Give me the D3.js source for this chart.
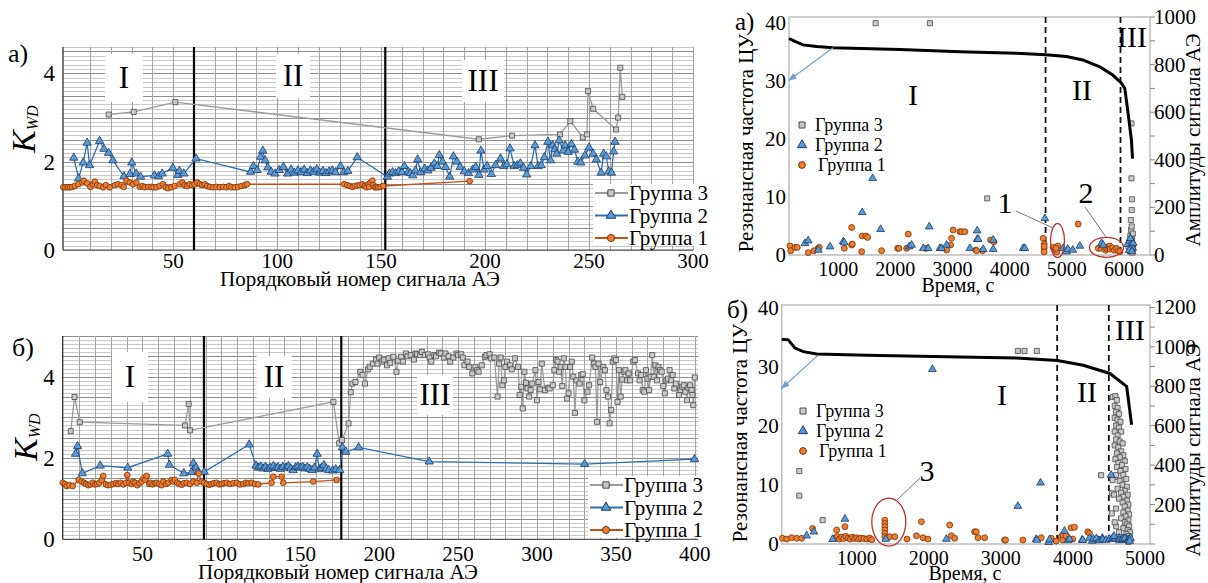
<!DOCTYPE html>
<html><head><meta charset="utf-8">
<script src="https://cdn.jsdelivr.net/npm/d3@7"></script>
<style>
body{margin:0;background:#fff}
svg{display:block}
text{font-family:"Liberation Serif","DejaVu Serif",serif}
</style></head><body>
<svg width="1208" height="583" font-family="Liberation Serif, DejaVu Serif, serif"></svg>
<script>
// ---------- data: left panels (K_WD vs ordinal number) ----------
const groups = ["Группа 3", "Группа 2", "Группа 1"];
const leftXTitle = "Порядковый номер сигнала АЭ";
const rightXTitle = "Время, с";
const rightYLeftTitle = "Резонансная частота ЦУ";
const rightYRightTitle = "Амплитуды сигнала АЭ";

const tlXTicks = [50, 100, 150, 200, 250, 300];
const tlYTicks = [0, 2, 4];
const tlStages = [60, 152];
const tlG3 = [[19,3.07],[31,3.13],[51,3.35],[197,2.51],[213,2.59],[236,2.62],[241,2.92],[247,2.55],[249,2.62],[249.5,3.6],[252,3.2],[263,2.73],[264,3.0],[265,4.13],[266,3.47]];
const tlG2 = [[2.2,2.09],[4.5,1.62],[6.7,1.98],[8.6,2.43],[9.8,1.92],[14.6,2.47],[16.7,2.29],[18.9,2.2],[21,2.03],[26.3,1.67],[29.2,1.72],[30.1,1.98],[32.2,1.73],[34.3,1.66],[41,1.69],[43,1.67],[44.7,1.73],[49.8,1.86],[52.2,1.7],[53,1.79],[55.1,1.73],[61,2.07],[87.2,1.77],[88.6,1.9],[90.4,1.81],[92,2.11],[93.1,2.25],[94.2,2.03],[95.5,1.87],[97.1,1.77],[99,1.73],[101,1.81],[103,1.88],[105,1.73],[106.7,1.82],[108.3,1.75],[110,1.8],[111.5,1.76],[113,1.82],[114.5,1.74],[116,1.8],[117.5,1.77],[119,1.83],[120.5,1.75],[122,1.79],[123.5,1.74],[125,1.78],[126.5,1.8],[128,1.76],[130.5,1.9],[132,1.76],[134,1.79],[138.5,2.1],[153,1.66],[154,1.73],[155.5,1.76],[157,1.74],[158.5,1.78],[160,1.76],[161.2,1.9],[163,1.77],[164,1.74],[165.2,1.69],[166.5,1.8],[167.6,2.05],[169,1.76],[171,1.84],[172.5,1.8],[174,1.86],[175.6,1.96],[177,1.9],[178,2.15],[179.5,2.0],[181,1.88],[183,1.66],[184.8,2.12],[186.5,2.0],[188,1.88],[190,1.78],[192,1.74],[194,1.82],[195.5,1.88],[197,1.7],[198,2.25],[199.5,1.82],[201,1.9],[203,1.72],[205,1.92],[207.4,2.07],[209,1.9],[210.5,1.94],[212,2.3],[214,1.9],[215.5,1.92],[217,1.96],[218.5,1.86],[220,1.71],[222,1.9],[224,2.37],[225.5,1.9],[227,1.92],[228.5,2.1],[230.2,2.45],[231.5,2.03],[232.5,2.37],[233.5,2.28],[234.5,2.18],[235.6,2.48],[237.5,2.25],[238.5,2.37],[240,2.22],[241.5,2.4],[243,2.27],[244.6,2.0],[246,1.98],[248,2.14],[250,2.32],[252,2.18],[253.5,2.05],[255.8,1.75],[257,2.18],[258.3,2.12],[259.5,1.78],[260.8,1.75],[261.8,2.23],[262.5,2.45]];
const tlG1 = [[-2.9,1.42],[-1.8,1.42],[-0.7,1.42],[0.4,1.42],[1.5,1.43],[2.7,1.45],[4.3,1.49],[6.3,1.53],[7,1.57],[8.6,1.51],[10.2,1.43],[11.5,1.49],[12.3,1.55],[13.4,1.47],[14.7,1.45],[16.3,1.42],[17.6,1.47],[19.5,1.42],[21.9,1.47],[23.5,1.49],[25.1,1.47],[26.2,1.43],[27.5,1.57],[29.1,1.53],[30.7,1.49],[32.3,1.53],[33.9,1.43],[35.2,1.45],[36.3,1.42],[37.9,1.43],[39.5,1.43],[40.6,1.42],[41.9,1.42],[43.5,1.45],[45.1,1.49],[46.4,1.42],[47.5,1.4],[49.1,1.42],[50.7,1.45],[53.1,1.49],[54.4,1.53],[55.5,1.47],[56.7,1.45],[57.9,1.49],[59.2,1.47],[60.3,1.49],[61.6,1.53],[62.8,1.49],[64,1.47],[65.2,1.49],[66.3,1.45],[67.6,1.43],[69.2,1.42],[70.8,1.43],[72.4,1.42],[74,1.43],[75.6,1.42],[76.9,1.45],[78,1.42],[79.6,1.42],[81.2,1.43],[82.8,1.45],[84.4,1.47],[85.5,1.49],[132.2,1.49],[133.7,1.47],[134.9,1.45],[136.2,1.43],[137.3,1.45],[138.5,1.46],[139.7,1.47],[141,1.49],[142.1,1.45],[142.9,1.42],[143.8,1.49],[144.2,1.43],[144.9,1.53],[145.8,1.57],[146.2,1.47],[147,1.42],[147.8,1.43],[148.6,1.42],[149.7,1.43],[151,1.45],[192.6,1.56]];

const blXTicks = [50, 100, 150, 200, 250, 300, 350, 400];
const blYTicks = [0, 2, 4];
const blStages = [89, 176];
const blG3 = [[4.6,2.66],[7,3.5],[10.3,2.88],[77,2.8],[79.3,3.33],[80.2,2.68],[171,3.38],[174.7,2.36],[176.5,2.44],[180.6,2.85],[182,3.62],[183,3.83],[185,3.87],[188,4.12],[189.5,4.04],
[191,3.83],[193,4.18],[194,4.24],[196,4.32],[198,4.42],[199,4.32],[200,4.47],[202,4.37],[203,4.42],[205,4.28],[206,4.45],[207,4.34],[209,4.49],[211,4.12],[212,4.39],[214,4.49],[215,4.37],[217,4.57],[218,4.5],[220,4.53],[222,4.42],[223,4.57],[224,4.55],[226,4.53],[227,4.61],[229,4.53],[231,4.55],[232,4.47],[233,4.37],[235,4.53],[236,4.5],[238,4.59],[239,4.57],[241,4.47],[242,4.57],[244,4.5],[245,4.37],[247,4.47],[249,4.57],[250,4.53],[252,4.55],[253,4.47],[254,4.28],[256,4.37],[257,4.24],[259,4.08],[261,4.24],[262,4.16],[263,4.12],[265,4.28],[267,4.49],[268,4.53],[270,4.55],[271,4.45],[273,4.47],[275,3.51],[276,4.32],[277,4.47],[278,3.79],[279,3.91],[280,4.24],[281,4.37],[283,4.28],[284,4.18],[286,4.45],[288,4.24],[289,3.55],[290,3.75],[291,3.22],[292,4.12],[293,3.85],[294,3.71],[295,3.51],[296,3.67],[297,3.83],[299,4.16],[300,3.42],[301,3.87],[302,3.69],[303,4.32],[305,3.67],[307,3.73],[308,3.71],[310,3.79],[311,4.16],[312,4.41],[313,4.37],[314,4.12],[315,4.24],[316,3.77],[317,4.45],[318,4.24],[319,3.46],[320,3.59],[321,4.24],[322,4.37],[323,4.0],[324,3.11],[325,3.91],[327,3.83],[328,4.04],[329,4.06],[330,3.42],[332,3.63],[333,3.79],[335,4.47],[336,4.32],[337,4.24],[338,2.89],[339,4.32],[340,3.87],[342,4.24],[343,4.16],[344,3.67],[345,3.51],[346,2.85],[347,3.18],[348,4.37],[349,4.45],[350,4.41],[351,3.38],[352,4.16],[353,3.51],[354,3.93],[355,4.12],[356,4.16],[357,3.91],[358,4.08],[359,3.91],[361,4.37],[362,4.41],[364,4.08],[365,3.91],[366,4.04],[367,3.67],[368,3.63],[369,4.16],[370,3.95],[371,3.67],[372,4.0],[373,4.53],[374,4.0],[375,4.28],[376,3.91],[377,4.24],[378,4.16],[379,4.12],[380,3.77],[381,3.59],[382,3.91],[383,3.95],[384,4.16],[385,3.91],[386,4.04],[387,3.71],[388,3.83],[390,3.55],[391,3.67],[392,3.75],[393,3.79],[394,3.63],[395,3.42],[396,3.73],[397,3.79],[398,3.67],[398.5,3.55],[399,3.3],[400,3.98]];
const blG2 = [[7.6,2.1],[8.9,2.29],[11.9,1.62],[23.3,1.81],[40.7,1.76],[66,2.1],[67.1,1.83],[76.2,1.62],[81.2,1.65],[82.3,1.87],[84,1.76],[85.2,1.65],[89.2,1.66],[117.7,2.33],[122,1.81],[123.5,1.76],[125,1.79],[126.5,1.74],[128,1.78],[129.5,1.73],[131,1.76],[133,1.8],[134.5,1.75],[136,1.77],[137.5,1.73],[139,1.78],[141,1.76],[142.5,1.8],[144,1.74],[145.5,1.7],[147,1.77],[148.5,1.79],[150,1.76],[151.5,1.78],[153,1.74],[154.5,1.77],[156,1.73],[157.5,1.7],[159,1.76],[160.7,2.1],[162,1.72],[163.5,1.76],[165,1.82],[166.5,1.74],[168,1.7],[170.6,1.69],[172.5,1.72],[175,1.7],[176.8,2.26],[178.9,2.15],[187,2.26],[231.7,1.91],[330.2,1.85],[399.8,1.97]];
const blG1 = [[-0.5,1.39],[1,1.36],[2,1.31],[3.7,1.33],[5.8,1.31],[9.6,1.46],[11.5,1.42],[13,1.39],[14.3,1.36],[15.7,1.33],[17.2,1.35],[18.5,1.39],[20,1.35],[21.4,1.36],[22.7,1.39],[24.2,1.46],[25.2,1.56],[26.9,1.35],[28.4,1.33],[29.9,1.34],[31.6,1.36],[33.3,1.38],[34.7,1.36],[36.2,1.39],[37.9,1.35],[39.6,1.39],[40.4,1.58],[41.7,1.39],[43.2,1.36],[44.2,1.42],[45.3,1.39],[46.8,1.33],[48,1.38],[49.5,1.42],[50.6,1.5],[51.8,1.46],[52.7,1.56],[54.2,1.36],[55.2,1.39],[56.5,1.35],[58,1.38],[59,1.39],[60.7,1.36],[62.2,1.33],[63.2,1.42],[65,1.36],[66.4,1.39],[68.5,1.46],[69.6,1.42],[70.6,1.46],[72.1,1.39],[73.4,1.36],[74.9,1.34],[76.3,1.38],[78,1.39],[80.1,1.36],[82.2,1.42],[84.4,1.39],[85.6,1.62],[87.5,1.42],[89,1.39],[90.7,1.36],[92.4,1.34],[93.8,1.36],[95.3,1.38],[97,1.39],[98.7,1.35],[100.2,1.36],[101.7,1.38],[103.4,1.39],[105.5,1.36],[107.6,1.38],[109.7,1.39],[111.8,1.35],[113.9,1.36],[115.6,1.39],[117.1,1.38],[119.2,1.39],[121.3,1.36],[123.4,1.35],[131.8,1.39],[132.9,1.54],[138.2,1.54],[139.2,1.39],[158.2,1.42],[173,1.46]];

// ---------- data: right panels (time, amplitude / resonance frequency) ----------
const trXTicks = [1000, 2000, 3000, 4000, 5000, 6000];
const trYLTicks = [0, 10, 20, 30, 40];
const trYRTicks = [0, 200, 400, 600, 800, 1000];
const trStages = [4628, 5939];
const trFreq = [[140,37.3],[245,36.8],[385,36.2],[624,35.9],[909,35.7],[2080,35.4],[3129,35.0],[4120,34.75],[4628,34.5],[4995,34.2],[5280,33.6],[5577,32.4],[5804,31.0],[5956,29.6],[6014,28.7],[6072,24.4],[6131,19.7],[6149,16.6]];
const trG3 = [[1656,974],[2605,974],[3607,238],[6131,553],[6131,322],[6140,234],[6135,189],[6120,147],[6125,105],[6110,80],[6140,70],[6100,55],[6150,45],[6120,40],[6090,30],[6160,25],[6130,20],[6105,15],[6145,10],[6080,35],[6125,60],[6155,90],[6135,120],[6115,65]];
const trG2 = [[420,49],[477,60],[652,21],[857,35],[1089,56],[1107,52],[1421,179],[1603,322],[1743,108],[2243,35],[2285,42],[2488,28],[2593,119],[2575,28],[2780,28],[2810,28],[2897,42],[3304,28],[3432,102],[3432,66],[3449,66],[3537,24],[3712,63],[3712,24],[4236,28],[4266,28],[4615,154],[4935,28],[4995,14],[5017,25],[5105,21],[5227,38],[5607,49],[5635,42],[6060,45],[6100,60],[6130,45],[6150,30],[6120,25],[6090,20],[6160,50],[6140,15],[6110,70]];
const trG1 = [[157,38],[170,18],[245,32],[285,32],[477,10],[577,18],[652,28],[670,32],[1107,28],[1236,42],[1236,116],[1247,46],[1411,14],[1421,80],[1486,80],[1516,74],[1760,18],[2040,28],[2063,28],[2198,28],[2226,88],[2535,28],[2897,21],[2967,42],[2984,70],[3012,105],[3129,98],[3159,98],[3217,98],[3409,21],[3421,18],[3526,18],[3666,63],[3724,56],[4586,70],[4603,28],[4603,46],[4603,13],[4603,36],[4760,32],[4790,21],[4825,13],[4843,38],[4810,28],[5198,130],[5550,28],[5600,28],[5650,32],[5680,20],[5700,28],[5720,35],[5750,38],[5760,25],[5800,30],[5830,20],[5870,28],[5900,18],[5930,14]];

const brXTicks = [1000, 2000, 3000, 4000, 5000];
const brYLTicks = [0, 10, 20, 30, 40];
const brYRTicks = [200, 400, 600, 800, 1000, 1200];
const brStages = [3782, 4499];
const brFreq = [[-40,34.7],[51,34.6],[144,33.2],[259,32.6],[445,32.2],[1139,32.0],[2433,31.7],[3219,31.5],[3788,31.1],[4143,30.3],[4514,28.9],[4746,26.7],[4815,20.2]];
const brG3 = [[204,370],[204,245],[528,121],[3237,979],[3329,979],[3500,979],[4392,349],
[4553,746],[4590,750],[4610,730],[4580,700],[4620,690],[4600,670],[4640,660],[4580,640],[4620,630],[4660,620],[4600,600],[4640,590],[4580,570],[4670,570],[4620,550],[4600,530],[4650,520],[4690,510],[4580,500],[4630,490],[4670,470],[4610,460],[4700,450],[4650,440],[4590,430],[4720,420],[4630,410],[4680,400],[4610,390],[4730,380],[4660,370],[4700,350],[4600,340],[4740,330],[4650,320],[4550,324],[4690,300],[4750,290],[4620,280],[4720,270],[4544,257],[4670,260],[4760,250],[4700,240],[4640,230],[4750,220],[4690,210],[4770,200],[4720,190],[4600,180],[4760,170],[4700,160],[4540,155],[4780,150],[4730,140],[4670,130],[4770,120],[4720,110],[4750,100],[4780,90],[4700,80],[4760,70],[4790,60],[4740,50],[4770,40],[4710,35],[4790,30],[4750,20],[4680,25],[4770,10],[4640,60],[4600,90],[4580,110],[4570,250],[4600,350]];
const brG2 = [[306,42],[407,62],[666,24],[837,127],[1404,25],[2051,886],[2245,25],[3237,192],[3491,24],[3500,20],[3551,310],[3666,9],[3676,22],[3883,66],[3930,18],[3953,25],[4128,20],[4137,20],[4230,30],[4267,15],[4285,25],[4327,28],[4369,18],[4410,30],[4415,22],[4461,20],[4507,25],[4530,350],[4549,30],[4576,25],[4600,25],[4640,30],[4646,18],[4680,22],[4692,26],[4720,28],[4760,20],[4784,25],[4800,30],[4570,40],[4790,15]];
const brG1 = [[-30,29],[29,25],[98,32],[168,29],[237,29],[389,79],[700,30],[722,71],[730,38],[760,25],[790,35],[820,28],[837,88],[850,40],[880,30],[910,25],[940,35],[970,28],[1000,32],[1030,25],[1060,30],[1100,28],[1140,25],[1180,30],[1210,22],[1391,121],[1391,104],[1391,88],[1391,71],[1391,54],[1391,37],[1459,37],[1530,37],[1699,25],[1830,42],[1899,113],[1921,32],[1990,25],[2291,96],[2314,42],[2360,29],[2637,62],[2660,62],[2683,32],[2775,32],[3052,20],[3066,20],[3306,20],[3561,32],[3699,29],[3768,15],[3838,37],[3860,20],[3860,46],[3907,42],[3976,82],[3998,25],[4022,85],[4206,62],[4230,54],[4345,25]];

// ---------- drawing ----------
const svg = d3.select("svg");
svg.append("rect").attr("width", 1208).attr("height", 583).attr("fill", "#fff");

const style = {
  g3: {sym: d3.symbolSquare, fill: "#c9c9c9", stroke: "#4a4a4a", line: "#9b9b9b"},
  g2: {sym: d3.symbolTriangle, fill: "#5b9bd5", stroke: "#1c3a66", line: "#2f6db3"},
  g1: {sym: d3.symbolCircle, fill: "#ed7d31", stroke: "#7a3408", line: "#c4501c"}
};

const defs = svg.append("defs");
defs.append("marker").attr("id", "arr").attr("viewBox", "0 0 10 10")
  .attr("refX", 9).attr("refY", 5).attr("markerWidth", 7).attr("markerHeight", 7)
  .attr("orient", "auto")
  .append("path").attr("d", "M0,1 L10,5 L0,9 z").attr("fill", "#6fa0d8");

function symbols(g, data, x, y, st, size) {
  g.selectAll(null).data(data).join("path")
    .attr("transform", d => `translate(${x(d[0])},${y(d[1])})`)
    .attr("d", d3.symbol().type(st.sym).size(size))
    .attr("fill", st.fill).attr("stroke", st.stroke).attr("stroke-width", 0.8);
}

function stageLabel(g, cx, cy, txt, w, h) {
  g.append("rect").attr("x", cx - w / 2).attr("y", cy - h / 2)
    .attr("width", w).attr("height", h).attr("fill", "#fff");
  g.append("text").attr("x", cx).attr("y", cy + 10).attr("text-anchor", "middle")
    .style("font-size", "31px").text(txt);
}

function leftPanel(o) {
  const g = svg.append("g");
  const x = d3.scaleLinear().domain(o.xDom).range(o.xR);
  const y = d3.scaleLinear().domain(o.yDom).range(o.yR);

  // dense horizontal grid (0.1) with heavier lines every 0.5
  const hs = d3.range(0, Math.round(o.yDom[1] * 10) + 1).map(i => i / 10);
  g.selectAll(null).data(hs).join("line")
    .attr("x1", o.xR[0]).attr("x2", o.xR[1])
    .attr("y1", d => Math.round(y(d)) + 0.5).attr("y2", d => Math.round(y(d)) + 0.5)
    .attr("stroke", d => Math.round(d * 10) % 5 === 0 ? "#8d8d8d" : "#c9c9c9");
  const vs = d3.range(10, o.xDom[1] + 1, 10);
  g.selectAll(null).data(vs).join("line")
    .attr("x1", d => Math.round(x(d)) + 0.5).attr("x2", d => Math.round(x(d)) + 0.5)
    .attr("y1", o.yR[1]).attr("y2", o.yR[0])
    .attr("stroke", "#a3a3a3");

  // axes
  g.append("line").attr("x1", o.xR[0]).attr("x2", o.xR[0]).attr("y1", o.yR[1]).attr("y2", o.yR[0])
    .attr("stroke", "#333").attr("stroke-width", 1.3);
  g.append("line").attr("x1", o.xR[0]).attr("x2", o.xR[1]).attr("y1", o.yR[0]).attr("y2", o.yR[0])
    .attr("stroke", "#555").attr("stroke-width", 1.2);
  g.selectAll(null).data(o.yTicks).join("text")
    .attr("x", o.xR[0] - 8).attr("y", d => y(d) + 8).attr("text-anchor", "end")
    .style("font-size", "23px").text(d => d);
  g.selectAll(null).data(o.xTicks).join("text")
    .attr("x", d => x(d)).attr("y", o.xTickY).attr("text-anchor", "middle")
    .style("font-size", "21px").text(d => d);
  g.append("text").attr("x", o.xTitle[0]).attr("y", o.xTitle[1]).attr("text-anchor", "middle")
    .style("font-size", "21px").text(leftXTitle);

  // y title K_WD
  const yt = g.append("text").attr("transform", `translate(${o.kPos[0]},${o.kPos[1]}) rotate(-90)`)
    .style("font-style", "italic");
  yt.append("tspan").style("font-size", "34px").text("K");
  yt.append("tspan").style("font-size", "16px").attr("dy", 3).text("WD");

  // stage separators and labels
  o.stages.forEach(s => {
    g.append("line").attr("x1", x(s)).attr("x2", x(s)).attr("y1", o.yR[1]).attr("y2", o.yR[0])
      .attr("stroke", "#000").attr("stroke-width", 2.2);
  });
  o.labels.forEach(l => stageLabel(g, l[0], l[1], l[2], l[3], l[4]));

  // series
  const line = d3.line().x(d => x(d[0])).y(d => y(d[1]));
  [["g3", o.g3, 26], ["g2", o.g2, 30], ["g1", o.g1, 26]].forEach(([k, data, sz]) => {
    g.append("path").attr("d", line(data)).attr("fill", "none")
      .attr("stroke", style[k].line).attr("stroke-width", 1.3);
    symbols(g, data, x, y, style[k], sz);
  });

  // legend
  const lg = g.append("g").attr("transform", `translate(${o.leg[0]},${o.leg[1]})`);
  lg.append("rect").attr("width", o.leg[2]).attr("height", o.leg[3]).attr("fill", "#fff");
  ["g3", "g2", "g1"].forEach((k, i) => {
    const yy = 9 + i * 22.5;
    lg.append("line").attr("x1", 2).attr("x2", 35).attr("y1", yy).attr("y2", yy)
      .attr("stroke", style[k].line).attr("stroke-width", 1.8);
    lg.append("path").attr("transform", `translate(18,${yy})`)
      .attr("d", d3.symbol().type(style[k].sym).size(40))
      .attr("fill", style[k].fill).attr("stroke", style[k].stroke);
    lg.append("text").attr("x", 36).attr("y", yy + 7).style("font-size", "21px").text(groups[i]);
  });

  g.append("text").attr("x", o.panel[0]).attr("y", o.panel[1]).style("font-size", "26px").text(o.panel[2]);
}

function rightPanel(o) {
  const g = svg.append("g");
  const x = d3.scaleLinear().domain(o.xDom).range(o.xR);
  const yL = d3.scaleLinear().domain(o.yLDom).range(o.yR);
  const yA = d3.scaleLinear().domain(o.yADom).range(o.yR);

  g.append("rect").attr("x", o.xR[0]).attr("y", o.yR[1])
    .attr("width", o.xR[1] - o.xR[0]).attr("height", o.yR[0] - o.yR[1])
    .attr("fill", "none").attr("stroke", "#bdbdbd").attr("stroke-width", 1.5);

  // right axis minor/major ticks
  const rt = d3.range(0, o.yADom[1] + 1, 100).filter(v => v <= o.yRTickMax);
  g.selectAll(null).data(rt).join("line")
    .attr("x1", o.xR[1]).attr("x2", o.xR[1] + 5)
    .attr("y1", d => yA(d)).attr("y2", d => yA(d)).attr("stroke", "#888");

  g.selectAll(null).data(o.yLTicks).join("text")
    .attr("x", o.xR[0] - 3).attr("y", d => yL(d) + 7).attr("text-anchor", "end")
    .style("font-size", "21px").text(d => d);
  g.selectAll(null).data(o.yRTicks).join("text")
    .attr("x", o.xR[1] + 4).attr("y", d => yA(d) + 7)
    .style("font-size", "21px").text(d => d);
  g.selectAll(null).data(o.xTicks).join("text")
    .attr("x", d => x(d)).attr("y", o.yR[0] + 21).attr("text-anchor", "middle")
    .style("font-size", "20px").text(d => d);
  g.append("text").attr("x", o.xTitle[0]).attr("y", o.xTitle[1]).attr("text-anchor", "middle")
    .style("font-size", "20px").text(rightXTitle);
  g.append("text").attr("transform", `translate(${o.yLTitle[0]},${o.yLTitle[1]}) rotate(-90)`)
    .attr("text-anchor", "middle").style("font-size", "21px").text(rightYLeftTitle);
  g.append("text").attr("transform", `translate(${o.yRTitle[0]},${o.yRTitle[1]}) rotate(-90)`)
    .attr("text-anchor", "middle").style("font-size", "21px").text(rightYRightTitle);

  // stage separators
  o.stages.forEach(s => {
    g.append("line").attr("x1", x(s)).attr("x2", x(s)).attr("y1", o.yR[1]).attr("y2", o.yR[0])
      .attr("stroke", "#111").attr("stroke-width", 1.8).attr("stroke-dasharray", "6,4");
  });
  o.labels.forEach(l => g.append("text").attr("x", l[0]).attr("y", l[1] + 10)
    .attr("text-anchor", "middle").style("font-size", "30px").text(l[2]));

  // scatter groups on amplitude axis
  symbols(g, o.g3, x, yA, style.g3, 26);
  symbols(g, o.g1, x, yA, style.g1, 28);
  symbols(g, o.g2, x, yA, style.g2, 26);

  // resonance frequency curve
  g.append("path").attr("d", d3.line().x(d => x(d[0])).y(d => yL(d[1]))(o.freq))
    .attr("fill", "none").attr("stroke", "#000").attr("stroke-width", 3);
  g.append("line").attr("x1", x(o.arrow[0][0])).attr("y1", yL(o.arrow[0][1]))
    .attr("x2", x(o.arrow[1][0])).attr("y2", yL(o.arrow[1][1]))
    .attr("stroke", "#6fa0d8").attr("stroke-width", 1.2).attr("marker-end", "url(#arr)");

  // highlighted clusters
  o.rings.forEach(r => {
    g.append("ellipse").attr("cx", x(r[0])).attr("cy", yA(r[1])).attr("rx", r[2]).attr("ry", r[3])
      .attr("fill", "none").attr("stroke", "#c0302a").attr("stroke-width", 1.3);
    g.append("line").attr("x1", r[5][0]).attr("y1", r[5][1]).attr("x2", r[5][2]).attr("y2", r[5][3])
      .attr("stroke", "#777").attr("stroke-width", 1);
    g.append("text").attr("x", r[6][0]).attr("y", r[6][1]).attr("text-anchor", "middle")
      .style("font-size", "30px").text(r[4]);
  });

  // legend
  const lg = g.append("g").attr("transform", `translate(${o.leg[0]},${o.leg[1]})`);
  ["g3", "g2", "g1"].forEach((k, i) => {
    const yy = i * 20;
    lg.append("path").attr("transform", `translate(0,${yy})`)
      .attr("d", d3.symbol().type(style[k].sym).size(36))
      .attr("fill", style[k].fill).attr("stroke", style[k].stroke);
    lg.append("text").attr("x", i === 2 ? 16 : 13).attr("y", yy + 6).style("font-size", "18px").text(groups[i]);
  });

  g.append("text").attr("x", o.panel[0]).attr("y", o.panel[1]).style("font-size", "25px").text(o.panel[2]);
}

leftPanel({
  xDom: [-3, 300], xR: [63, 693], yDom: [0, 4.6], yR: [250, 47],
  xTicks: tlXTicks, yTicks: tlYTicks, stages: tlStages, xTickY: 268,
  g1: tlG1, g2: tlG2, g3: tlG3, xTitle: [360, 286], kPos: [35, 153],
  labels: [[124, 78, "I", 38, 48], [293, 76, "II", 34, 44], [483, 81, "III", 42, 42]],
  leg: [593, 184, 107, 62], panel: [8, 62, "а)"]
});

leftPanel({
  xDom: [-0.5, 402], xR: [62.7, 698], yDom: [0, 5], yR: [539.3, 336],
  xTicks: blXTicks, yTicks: blYTicks, stages: blStages, xTickY: 561,
  g1: blG1, g2: blG2, g3: blG3, xTitle: [338, 579], kPos: [37, 461],
  labels: [[130, 377, "I", 36, 50], [274, 377, "II", 35, 42], [435, 395, "III", 36, 40]],
  leg: [588, 476, 112, 62], panel: [12, 356, "б)"]
});

rightPanel({
  xDom: [140, 6455], xR: [789, 1150], yLDom: [0, 41], yADom: [0, 1000], yR: [255, 17],
  xTicks: trXTicks, yLTicks: trYLTicks, yRTicks: trYRTicks, yRTickMax: 1000, stages: trStages,
  freq: trFreq, g1: trG1, g2: trG2, g3: trG3,
  arrow: [[910, 35.7], [140, 30.1]],
  labels: [[913, 95, "I"], [1082, 90, "II"], [1132, 37, "III"]],
  rings: [[4837, 60, 7, 17, "1", [1016, 211, 1053, 228], [1005, 213]],
          [5694, 32, 17, 10, "2", [1085, 207, 1106, 237], [1086, 203]]],
  xTitle: [958, 292], yLTitle: [753, 143], yRTitle: [1200, 140],
  leg: [802, 125], panel: [735, 30, "а)"]
});

rightPanel({
  xDom: [-40, 5070], xR: [781.7, 1150], yLDom: [0, 40.5], yADom: [0, 1212], yR: [544, 305],
  xTicks: brXTicks, yLTicks: brYLTicks, yRTicks: brYRTicks, yRTickMax: 1200, stages: brStages,
  freq: brFreq, g1: brG1, g2: brG2, g3: brG3,
  arrow: [[467, 32.0], [-40, 26.4]],
  labels: [[1002, 395, "I"], [1087, 392, "II"], [1130, 330, "III"]],
  rings: [[1446, 111, 17, 24, "3", [920, 478, 897, 500], [927, 481]]],
  xTitle: [965, 580], yLTitle: [747, 433], yRTitle: [1200, 450],
  leg: [803, 411], panel: [727, 318, "б)"]
});
</script>
</body></html>
